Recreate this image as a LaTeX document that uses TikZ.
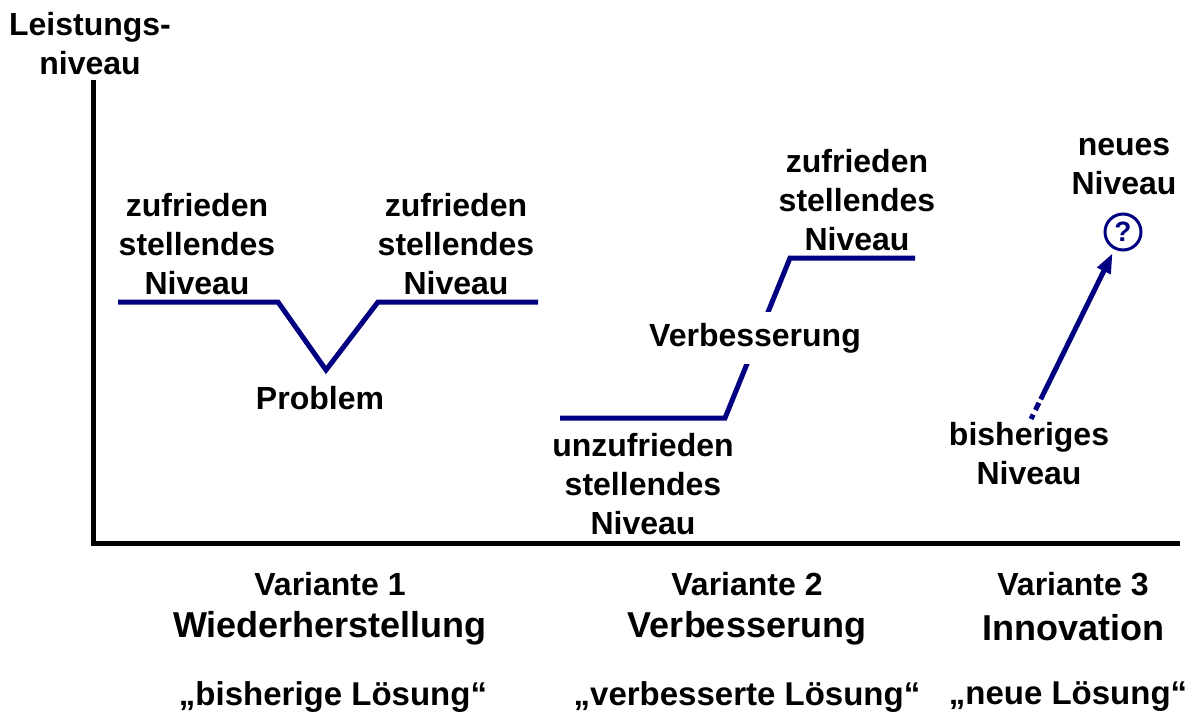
\documentclass[tikz,border=0pt]{standalone}
\usepackage{fontspec}
\setmainfont{Liberation Sans}
\usetikzlibrary{arrows.meta}
\definecolor{navy}{RGB}{0,0,128}
\begin{document}
\begin{tikzpicture}[x=0.5pt,y=-0.5pt,
  lbl/.style={font=\fontsize{16}{19.5}\selectfont\bfseries, align=center, inner sep=0pt},
  var/.style={font=\fontsize{16}{19.5}\selectfont\bfseries, inner sep=0pt},
  title/.style={font=\fontsize{18}{22}\selectfont\bfseries, inner sep=0pt},
  quote/.style={font=\fontsize{16.5}{20}\selectfont\bfseries, inner sep=0pt},
  axis/.style={line width=2.5pt, black, line join=miter},
  level/.style={line width=2.5pt, navy, line join=miter},
  qcircle/.style={circle, draw=navy, line width=1.5pt, minimum size=18pt, inner sep=0pt, text=navy, font=\fontsize{14}{16}\selectfont\bfseries},
  arr/.style={line width=2.5pt, navy, -{Triangle[length=10pt,width=7pt]}, shorten >=2pt,
    dash pattern=on 2.5pt off 2.5pt on 4pt off 2pt on 300pt}]
\path[fill=white,use as bounding box] (0,0) rectangle (1200,717);

% axes
\coordinate (ytop) at (93,80);
\coordinate (origin) at (93,543);
\coordinate (xend) at (1180,543);
\draw[axis] (ytop) -- (origin) -- (xend);
\node[lbl] (ylabel) at (90,44) {Leistungs-\\niveau};

% Variante 1
\coordinate (a1) at (118,302);
\coordinate (a2) at (278,302);
\coordinate (a3) at (326,370);
\coordinate (a4) at (378,302);
\coordinate (a5) at (538,302);
\draw[level] (a1) -- (a2) -- (a3) -- (a4) -- (a5);
\node[lbl] (z1) at (197,244) {zufrieden\\stellendes\\Niveau};
\node[lbl] (z2) at (456,244) {zufrieden\\stellendes\\Niveau};
\node[lbl] (prob) at (320,398) {Problem};

% Variante 2
\coordinate (b1) at (560,418);
\coordinate (b2) at (725,418);
\coordinate (b3) at (790,258);
\coordinate (b4) at (915,258);
\draw[level] (b1) -- (b2) -- (b3) -- (b4);
\node[lbl, fill=white, inner ysep=5.5pt, inner xsep=2pt] (verb) at (755,338) {Verbesserung};
\node[lbl] (z3) at (857,200) {zufrieden\\stellendes\\Niveau};
\node[lbl] (u1) at (643,484) {unzufrieden\\stellendes\\Niveau};

% Variante 3
\node[qcircle] (q) at (1123,232) {?};
\coordinate (start) at (1031,419);
\draw[arr] (start) -- (q);
\node[lbl] (neu) at (1124,167) {neues\\Niveau};
\node[lbl] (bish) at (1029,454) {bisheriges\\Niveau};

% bottom labels
\node[var] (v1) at (330,584) {Variante 1};
\node[title] (t1) at (330,628) {Wiederherstellung};
\node[quote] (s1) at (333,697) {„bisherige Lösung“};
\node[var] (v2) at (747,584) {Variante 2};
\node[title] (t2) at (747,628) {Verbesserung};
\node[quote] (s2) at (747,697) {„verbesserte Lösung“};
\node[var] (v3) at (1073,584) {Variante 3};
\node[title] (t3) at (1073,628) {Innovation};
\node[quote] (s3) at (1068,697) {„neue Lösung“};
\end{tikzpicture}
\end{document}
